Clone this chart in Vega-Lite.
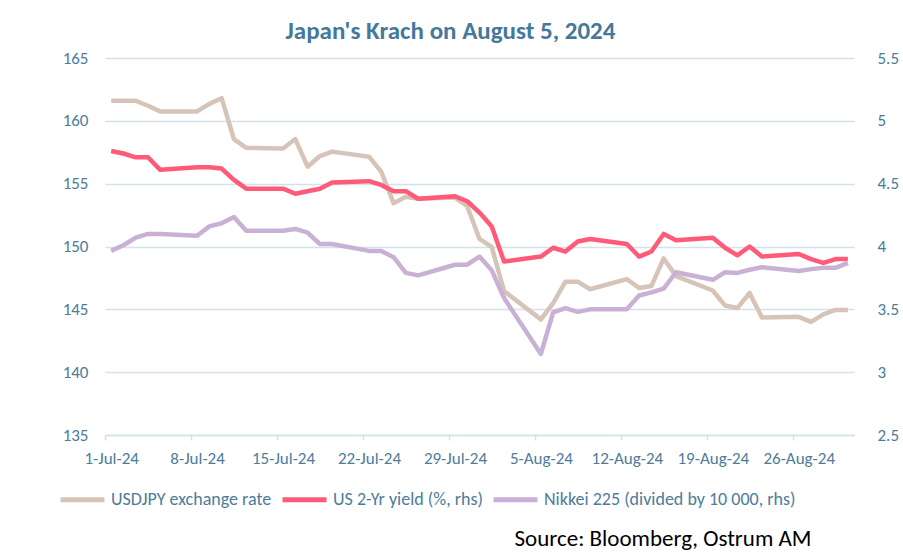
{
  "$schema": "https://vega.github.io/schema/vega-lite/v6.json",
  "width": 749,
  "height": 377,
  "autosize": "none",
  "padding": {"left": 105, "top": 58, "right": 49, "bottom": 120},
  "background": "white",
  "config": {"font": "Carlito, Lato", "view": {"stroke": null}},
  "title": {"text": "Japan's Krach on August 5, 2024", "fontSize": 25, "fontWeight": "bold", "color": "#44799a", "anchor": "middle", "dx": -29, "dy": 32, "offset": 17, "baseline": "alphabetic", "frame": "group"},
  "data": {"values": [
    {"d": "2024-07-01", "u": 161.6, "y": 4.76, "n": 3.965},
    {"d": "2024-07-02", "u": 161.6, "y": 4.74, "n": 4.01},
    {"d": "2024-07-03", "u": 161.6, "y": 4.71, "n": 4.07},
    {"d": "2024-07-04", "u": 161.2, "y": 4.71, "n": 4.10},
    {"d": "2024-07-05", "u": 160.75, "y": 4.61, "n": 4.10},
    {"d": "2024-07-08", "u": 160.75, "y": 4.63, "n": 4.085},
    {"d": "2024-07-09", "u": 161.35, "y": 4.63, "n": 4.16},
    {"d": "2024-07-10", "u": 161.8, "y": 4.62, "n": 4.185},
    {"d": "2024-07-11", "u": 158.55, "y": 4.53, "n": 4.235},
    {"d": "2024-07-12", "u": 157.85, "y": 4.46, "n": 4.125},
    {"d": "2024-07-15", "u": 157.8, "y": 4.46, "n": 4.125},
    {"d": "2024-07-16", "u": 158.55, "y": 4.42, "n": 4.14},
    {"d": "2024-07-17", "u": 156.35, "y": 4.44, "n": 4.11},
    {"d": "2024-07-18", "u": 157.2, "y": 4.46, "n": 4.02},
    {"d": "2024-07-19", "u": 157.55, "y": 4.51, "n": 4.02},
    {"d": "2024-07-22", "u": 157.15, "y": 4.52, "n": 3.965},
    {"d": "2024-07-23", "u": 155.95, "y": 4.49, "n": 3.965},
    {"d": "2024-07-24", "u": 153.45, "y": 4.44, "n": 3.915},
    {"d": "2024-07-25", "u": 153.95, "y": 4.44, "n": 3.79},
    {"d": "2024-07-26", "u": 153.8, "y": 4.38, "n": 3.77},
    {"d": "2024-07-29", "u": 153.9, "y": 4.40, "n": 3.855},
    {"d": "2024-07-30", "u": 153.2, "y": 4.36, "n": 3.855},
    {"d": "2024-07-31", "u": 150.6, "y": 4.27, "n": 3.92},
    {"d": "2024-08-01", "u": 149.95, "y": 4.16, "n": 3.81},
    {"d": "2024-08-02", "u": 146.45, "y": 3.88, "n": 3.59},
    {"d": "2024-08-05", "u": 144.2, "y": 3.92, "n": 3.145},
    {"d": "2024-08-06", "u": 145.5, "y": 3.99, "n": 3.475},
    {"d": "2024-08-07", "u": 147.2, "y": 3.96, "n": 3.51},
    {"d": "2024-08-08", "u": 147.2, "y": 4.04, "n": 3.48},
    {"d": "2024-08-09", "u": 146.6, "y": 4.06, "n": 3.50},
    {"d": "2024-08-12", "u": 147.4, "y": 4.02, "n": 3.50},
    {"d": "2024-08-13", "u": 146.7, "y": 3.92, "n": 3.61},
    {"d": "2024-08-14", "u": 146.85, "y": 3.96, "n": 3.635},
    {"d": "2024-08-15", "u": 149.05, "y": 4.10, "n": 3.665},
    {"d": "2024-08-16", "u": 147.65, "y": 4.05, "n": 3.795},
    {"d": "2024-08-19", "u": 146.5, "y": 4.07, "n": 3.735},
    {"d": "2024-08-20", "u": 145.3, "y": 3.99, "n": 3.795},
    {"d": "2024-08-21", "u": 145.1, "y": 3.93, "n": 3.79},
    {"d": "2024-08-22", "u": 146.3, "y": 4.00, "n": 3.815},
    {"d": "2024-08-23", "u": 144.35, "y": 3.92, "n": 3.835},
    {"d": "2024-08-26", "u": 144.4, "y": 3.94, "n": 3.805},
    {"d": "2024-08-27", "u": 144.0, "y": 3.90, "n": 3.82},
    {"d": "2024-08-28", "u": 144.6, "y": 3.87, "n": 3.83},
    {"d": "2024-08-29", "u": 144.95, "y": 3.90, "n": 3.83},
    {"d": "2024-08-30", "u": 144.95, "y": 3.90, "n": 3.87}
  ]},
  "encoding": {
    "x": {
      "field": "d", "type": "temporal",
      "scale": {"type": "utc", "domain": [
        {"year": 2024, "month": 6, "date": 30, "hours": 12, "utc": true},
        {"year": 2024, "month": 8, "date": 30, "hours": 12, "utc": true}
      ]},
      "axis": {
        "values": [
          {"year": 2024, "month": 7, "date": 1, "utc": true},
          {"year": 2024, "month": 7, "date": 8, "utc": true},
          {"year": 2024, "month": 7, "date": 15, "utc": true},
          {"year": 2024, "month": 7, "date": 22, "utc": true},
          {"year": 2024, "month": 7, "date": 29, "utc": true},
          {"year": 2024, "month": 8, "date": 5, "utc": true},
          {"year": 2024, "month": 8, "date": 12, "utc": true},
          {"year": 2024, "month": 8, "date": 19, "utc": true},
          {"year": 2024, "month": 8, "date": 26, "utc": true}
        ],
        "format": "%-d-%b-%y",
        "grid": false,
        "domainColor": "#d3e2ea", "domainWidth": 1.5,
        "tickColor": "#d3e2ea", "tickWidth": 1.5, "tickSize": 5,
        "tickOffset": -6, "labelOffset": 6,
        "labelFontSize": 17, "labelColor": "#4d7c9a", "labelPadding": 10,
        "labelFlush": false, "labelOverlap": false,
        "title": "Source: Bloomberg, Ostrum AM",
        "titleFontSize": 23, "titleFontWeight": "normal", "titleColor": "#000000",
        "titleAlign": "right", "titleAnchor": null, "titleX": 706, "titleY": 110, "titleBaseline": "alphabetic"
      }
    }
  },
  "layer": [
    {
      "mark": {"type": "line", "strokeWidth": 4.5, "strokeJoin": "round"},
      "encoding": {
        "y": {"field": "u", "type": "quantitative",
          "scale": {"domain": [135, 165], "zero": false, "nice": false},
          "axis": {"values": [135, 140, 145, 150, 155, 160, 165], "format": "d", "title": null,
            "grid": true, "gridColor": "#d3e2ea", "gridWidth": 1.5, "domain": false, "ticks": false,
            "labelFontSize": 17, "labelColor": "#4d7c9a", "labelPadding": 17}},
        "color": {"datum": "USDJPY exchange rate",
          "scale": {"domain": ["USDJPY exchange rate", "US 2-Yr yield (%, rhs)", "Nikkei 225 (divided by 10 000, rhs)"],
                    "range": ["#d5c4b7", "#ff5b78", "#c9b1d5"]},
          "legend": {"orient": "none", "legendX": -47, "legendY": 417, "direction": "horizontal", "title": null,
            "symbolType": "stroke", "symbolStrokeWidth": 5, "symbolSize": 1936,
            "labelFontSize": 18, "labelColor": "#4d7c9a", "labelOffset": 4, "columnPadding": 0, "labelLimit": 400}}
      }
    },
    {
      "layer": [
        {
          "mark": {"type": "line", "strokeWidth": 4.5, "strokeJoin": "round"},
          "encoding": {
            "y": {"field": "y", "type": "quantitative",
              "scale": {"domain": [2.5, 5.5], "zero": false, "nice": false},
              "axis": {"orient": "right", "values": [2.5, 3, 3.5, 4, 4.5, 5, 5.5], "format": "~g", "title": null,
                "grid": false, "domain": false, "ticks": false,
                "labelFontSize": 17, "labelColor": "#4d7c9a", "labelPadding": 23}},
            "color": {"datum": "US 2-Yr yield (%, rhs)"}
          }
        },
        {
          "mark": {"type": "line", "strokeWidth": 4.5, "strokeJoin": "round"},
          "encoding": {
            "y": {"field": "n", "type": "quantitative",
              "scale": {"domain": [2.5, 5.5], "zero": false, "nice": false},
              "axis": {"orient": "right", "values": [2.5, 3, 3.5, 4, 4.5, 5, 5.5], "format": "~g", "title": null,
                "grid": false, "domain": false, "ticks": false,
                "labelFontSize": 17, "labelColor": "#4d7c9a", "labelPadding": 23}},
            "color": {"datum": "Nikkei 225 (divided by 10 000, rhs)"}
          }
        }
      ]
    }
  ],
  "resolve": {"scale": {"y": "independent"}}
}
